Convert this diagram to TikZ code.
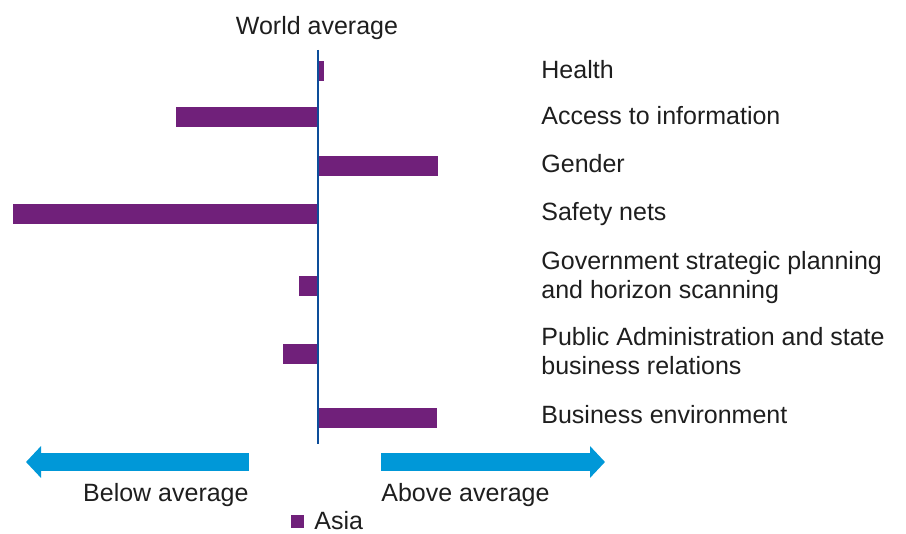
\documentclass[tikz,border=0pt]{standalone}
\usepackage{fontspec}
\setmainfont{Liberation Sans}
\usetikzlibrary{arrows.meta}
\definecolor{asiapurple}{HTML}{70207A}
\definecolor{avgblue}{HTML}{0D4D9A}
\definecolor{arrowblue}{HTML}{0098D8}
\definecolor{txtgray}{HTML}{1E1E1E}

\begin{document}
\begin{tikzpicture}[x=0.5pt,y=-0.5pt]
      \tikzstyle{every node}+=[inner sep=0pt,text=txtgray,font=\fontsize{12.5}{14.5}\selectfont]
      \tikzstyle{bar}=[fill=asiapurple]
      \tikzstyle{label}=[anchor=base west,align=left]
      \tikzstyle{side}=[line width=9pt,arrowblue,-{Triangle[length=7.5pt,width=15.5pt]}]
      \useasboundingbox (0,0) rectangle (906,534);
      % bars
      \foreach \xa/\xb/\yc in {318/324/71,176/318/117,318/438/166,13/318/214,
                                299/318/286,283/318/354,318/437/418}
        \fill[bar] (\xa,\yc-10) rectangle (\xb,\yc+10);
      % world average
      \coordinate (top) at (318,50);
      \coordinate (bot) at (318,444);
      \draw [avgblue,line width=1.2pt] (top) -- (bot);
      \node[anchor=base] (world) at (317,35) {World average};
      % category labels (base = last line)
      \node[label] (health) at (541,79) {Health};
      \node[label] (access) at (541,125) {Access to information};
      \node[label] (gender) at (541,173) {Gender};
      \node[label] (safety) at (541,221) {Safety nets};
      \node[label] (gov) at (541,299) {Government strategic planning\\and horizon scanning};
      \node[label] (public) at (541,375) {Public Administration and state\\business relations};
      \node[label] (business) at (541,423) {Business environment};
      % direction arrows
      \coordinate (lstart) at (249,462);
      \coordinate (ltip) at (26,462);
      \coordinate (rstart) at (381,462);
      \coordinate (rtip) at (605,462);
      \draw [side] (lstart) -- (ltip);
      \draw [side] (rstart) -- (rtip);
      \node[anchor=base east] (below) at (249,502) {Below average};
      \node[anchor=base west] (above) at (381,502) {Above average};
      % legend
      \fill[bar] (291,515) rectangle (304,528);
      \node[anchor=base west] (asia) at (314,530) {Asia};
    \end{tikzpicture}
\end{document}
